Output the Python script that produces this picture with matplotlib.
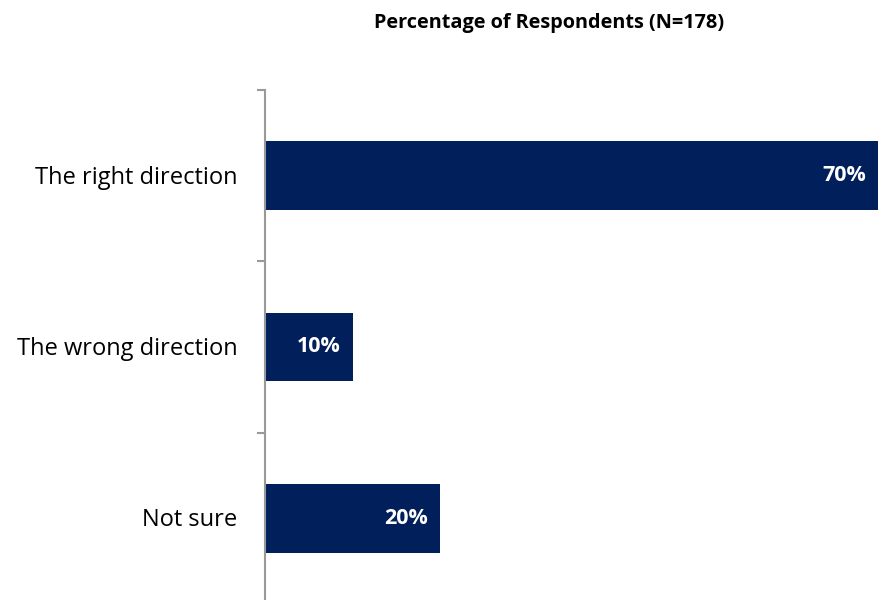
import matplotlib
matplotlib.use("Agg")
import matplotlib.pyplot as plt

categories = ["The right direction", "The wrong direction", "Not sure"]
values = [70, 10, 20]
value_labels = ["70%", "10%", "20%"]
title = "Percentage of Respondents (N=178)"

plt.rcParams['font.family'] = ['Open Sans', 'DejaVu Sans']

fig = plt.figure(figsize=(8.79, 6.0), dpi=100)
ax = fig.add_axes([265 / 879, -4 / 600, 614 / 879, 514 / 600])

pos = list(range(len(categories)))
ax.barh(pos, values, height=0.4, color="#001f5b")
ax.set_xlim(0, 70)
ax.set_ylim(len(categories) - 0.5, -0.5)

for p, v, lab in zip(pos, values, value_labels):
    ax.annotate(lab, xy=(v, p), xytext=(-9, 0), textcoords="offset points",
                ha="right", va="center", color="white", fontsize=15.5, fontweight="bold")

for p, c in zip(pos, categories):
    ax.annotate(c, xy=(0, p), xytext=(-20, -1.5), textcoords="offset points",
                xycoords=("axes fraction", "data"),
                ha="right", va="center", color="black", fontsize=17)

ax.set_yticks([i - 0.5 for i in range(len(categories) + 1)])
ax.set_yticklabels([])
ax.tick_params(axis="y", length=6, width=1.5, color="#999999", direction="out")
ax.set_xticks([])
for s in ["top", "right", "bottom"]:
    ax.spines[s].set_visible(False)
ax.spines["left"].set_color("#999999")
ax.spines["left"].set_linewidth(1.5)

fig.text(549 / 879, 1 - 23 / 600, title, ha="center", va="center",
         fontsize=14.3, fontweight="bold")

fig.savefig("out.png", dpi=100)
